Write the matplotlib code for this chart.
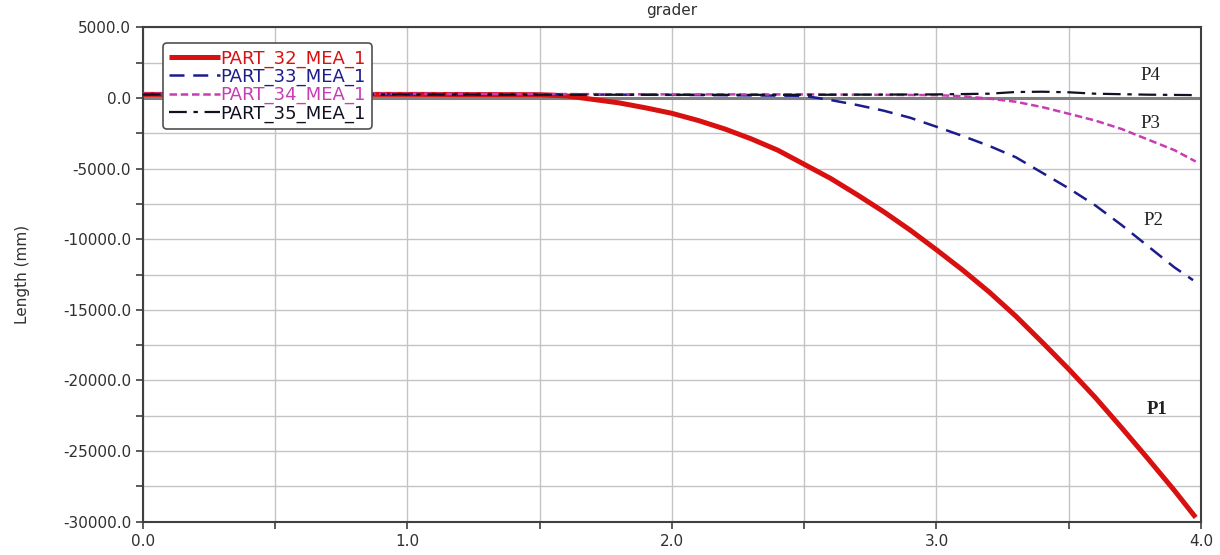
import matplotlib
matplotlib.use("Agg")
import matplotlib.pyplot as plt
from matplotlib.ticker import MultipleLocator, FormatStrFormatter

# ---- data ----
t_p1 = [0.0, 0.5, 1.0, 1.5, 1.6, 1.7, 1.8, 1.9, 2.0, 2.1, 2.2, 2.3, 2.4, 2.5, 2.6, 2.7,
        2.8, 2.9, 3.0, 3.1, 3.2, 3.3, 3.4, 3.5, 3.6, 3.7, 3.8, 3.9, 3.98]
v_p1 = [250, 250, 250, 230, 150, -100, -350, -700, -1090, -1600, -2200, -2900, -3700,
        -4700, -5700, -6850, -8050, -9350, -10750, -12200, -13750, -15450, -17300,
        -19200, -21200, -23350, -25550, -27800, -29700]

t_p2 = [0.0, 0.5, 1.0, 1.5, 2.0, 2.5, 2.6, 2.7, 2.8, 2.9, 3.0, 3.1, 3.2, 3.3, 3.4,
        3.5, 3.6, 3.7, 3.8, 3.9, 3.97]
v_p2 = [250, 250, 250, 250, 220, 150, -150, -500, -900, -1400, -2040, -2700, -3400,
        -4200, -5300, -6400, -7600, -9000, -10500, -12000, -12900]

t_p3 = [0.0, 0.5, 1.0, 1.5, 2.0, 2.5, 3.0, 3.1, 3.2, 3.3, 3.4, 3.5, 3.6, 3.7, 3.8,
        3.9, 3.98]
v_p3 = [300, 300, 300, 280, 250, 250, 200, 120, -50, -270, -650, -1120, -1600, -2200,
        -2950, -3700, -4500]

t_p4 = [0.0, 0.5, 1.0, 1.5, 2.0, 2.5, 3.0, 3.2, 3.3, 3.4, 3.5, 3.6, 3.8, 3.98]
v_p4 = [250, 250, 250, 230, 220, 220, 250, 300, 420, 440, 400, 300, 230, 200]

series_names = ["PART_32_MEA_1", "PART_33_MEA_1", "PART_34_MEA_1", "PART_35_MEA_1"]
curve_tags = ["P1", "P2", "P3", "P4"]
tag_x = [3.834, 3.82, 3.807, 3.807]
tag_y = [-22080, -8700, -1776, 1620]

colors = ["#d81010", "#1c1c8e", "#c83cb4", "#101020"]

fig = plt.figure(figsize=(12.2, 5.55), dpi=100)
ax = fig.add_axes([0.1172, 0.06, 0.8672, 0.8908])

ax.axhline(0, color="#808080", lw=2.2, zorder=1)

l1, = ax.plot(t_p1, v_p1, color=colors[0], lw=3.6, solid_capstyle="butt", zorder=3)
l2, = ax.plot(t_p2, v_p2, color=colors[1], lw=1.8, ls=(0, (6, 3.5)), zorder=3)
l3, = ax.plot(t_p3, v_p3, color=colors[2], lw=1.8, ls=(0, (3, 1.5)), zorder=3)
l4, = ax.plot(t_p4, v_p4, color=colors[3], lw=1.6, ls=(0, (8, 3, 2, 3)), zorder=3)

ax.set_xlim(0, 4.0)
ax.set_ylim(-30000, 5000)
ax.xaxis.set_major_locator(MultipleLocator(1.0))
ax.xaxis.set_minor_locator(MultipleLocator(0.5))
ax.yaxis.set_major_locator(MultipleLocator(5000))
ax.yaxis.set_minor_locator(MultipleLocator(2500))
ax.xaxis.set_major_formatter(FormatStrFormatter("%.1f"))
ax.yaxis.set_major_formatter(FormatStrFormatter("%.1f"))
ax.grid(True, which="both", color="#c4c4c4", lw=1.0, zorder=0)
ax.set_axisbelow(True)
ax.tick_params(which="both", direction="out", length=5, width=1.2, color="#404040",
               labelsize=11, labelcolor="#303030")
ax.tick_params(axis="x", pad=4)
for s in ax.spines.values():
    s.set_color("#404040")
    s.set_linewidth(1.5)

ax.set_ylabel("Length (mm)", fontsize=11, color="#303030", labelpad=24)
ax.set_title("grader", fontsize=11, color="#303030", pad=9)

leg = ax.legend([l1, l2, l3, l4], series_names, loc="upper left",
                bbox_to_anchor=(0.019, 0.968), borderaxespad=0.0, fontsize=13,
                handlelength=2.8, handletextpad=0.0, labelspacing=0.0, borderpad=0.35,
                frameon=True, fancybox=True, framealpha=1, edgecolor="#505050")
leg.get_frame().set_linewidth(1.2)
for txt, c in zip(leg.get_texts(), colors):
    txt.set_color(c)

for i, (tag, x, y) in enumerate(zip(curve_tags, tag_x, tag_y)):
    ax.text(x, y, tag, fontsize=13.5, family=["Liberation Serif", "DejaVu Serif"],
            fontweight="bold" if i == 0 else "normal", color="#202020",
            ha="center", va="center", zorder=4)

fig.savefig("out.png", dpi=100)
